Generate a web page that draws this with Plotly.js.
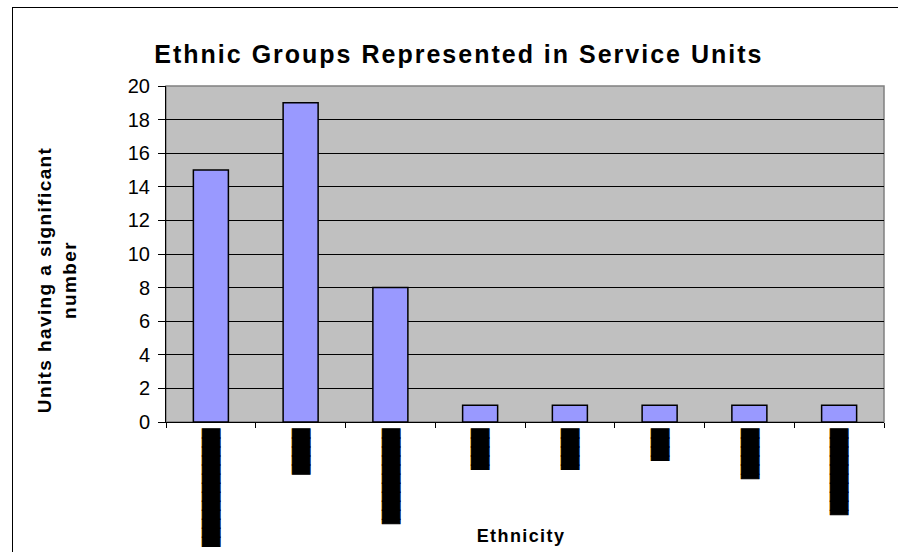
<!DOCTYPE html>
<html>
<head>
<meta charset="utf-8">
<script src="https://cdn.plot.ly/plotly-3.0.1.min.js"></script>
<style>
  html, body { margin: 0; padding: 0; background: #fff; }
  #wrap { position: relative; width: 898px; height: 552px; overflow: hidden; }
  #chart { position: absolute; left: 0; top: 0; width: 898px; height: 552px; }
  /* chart frame: only its left and top edges fall inside the view */
  #frame { position: absolute; left: 12px; top: 7px; width: 1000px; height: 700px;
           border: 1px solid #000; pointer-events: none; box-sizing: border-box; }
  /* the titles are set with a little extra tracking */
  #chart .gtitle { letter-spacing: 2px; }
  #chart .annotation-text { letter-spacing: 1.4px; }
  /* solid category blocks: close the hairline seams between glyphs */
  #chart .xtick text { stroke: #000; stroke-width: 1px; }
</style>
</head>
<body>
<div id="wrap">
  <div id="chart"></div>
  <div id="frame"></div>
</div>
<script>
// Eight ethnic groups; their names print as solid blocks on the category axis
const groupPositions = [0, 1, 2, 3, 4, 5, 6, 7];
const groupLabels = [
  "█████████████",
  "█████",
  "██████████▌",
  "████▌",
  "████▌",
  "███▌",
  "█████▌",
  "█████████▌"
];
const unitsWithSignificantNumber = [15, 19, 8, 1, 1, 1, 1, 1];
const yTicks = [0, 2, 4, 6, 8, 10, 12, 14, 16, 18, 20];

const font = "Liberation Sans, Arial, sans-serif";

const trace = {
  type: "bar",
  x: groupPositions,
  y: unitsWithSignificantNumber,
  width: 0.39,
  marker: { color: "#9999FF", line: { color: "#000", width: 1.5 } },
  hoverinfo: "y"
};

const layout = {
  width: 898,
  height: 552,
  margin: { l: 166, r: 14, t: 86, b: 130 },
  paper_bgcolor: "#fff",
  plot_bgcolor: "#C0C0C0",
  showlegend: false,
  title: {
    text: "<b>Ethnic Groups Represented in Service Units</b>",
    font: { family: font, size: 25, color: "#000" },
    x: 0.511, xanchor: "center",
    y: 0.902, yanchor: "middle"
  },
  xaxis: {
    range: [-0.5, 7.5],
    tickmode: "array",
    tickvals: groupPositions,
    ticktext: groupLabels,
    tickangle: 90,
    ticks: "",
    ticklabelstandoff: 3,
    tickfont: { family: "DejaVu Sans Mono", size: 15, color: "#000" },
    showgrid: false,
    zeroline: false,
    showline: true,
    linecolor: "#000",
    linewidth: 1,
    minor: { tick0: 0.5, dtick: 1, ticks: "outside", ticklen: 5, tickcolor: "#000", tickwidth: 1, showgrid: false },
    automargin: false
  },
  yaxis: {
    range: [0, 20],
    tickmode: "array",
    tickvals: yTicks,
    ticks: "outside",
    ticklen: 7,
    tickcolor: "#000",
    ticklabelstandoff: 4,
    tickfont: { family: font, size: 20, color: "#000" },
    showgrid: true,
    gridcolor: "#000",
    gridwidth: 1,
    zeroline: false,
    showline: true,
    linecolor: "#000",
    linewidth: 1,
    automargin: false
  },
  annotations: [
    {
      text: "<b>Units having a significant<br>number</b>",
      xref: "paper", yref: "paper",
      x: -0.1518, y: 0.4226,
      xanchor: "center", yanchor: "middle",
      textangle: -90,
      showarrow: false,
      font: { family: font, size: 19, color: "#000" }
    },
    {
      text: "<b>Ethnicity</b>",
      xref: "paper", yref: "paper",
      x: 0.4951, y: -0.338,
      xanchor: "center", yanchor: "middle",
      showarrow: false,
      font: { family: font, size: 18, color: "#000" }
    }
  ],
  shapes: [{
    type: "rect", xref: "paper", yref: "paper", x0: 0, x1: 1, y0: 0, y1: 1,
    line: { color: "#808080", width: 1.5 }, fillcolor: "rgba(0,0,0,0)", layer: "below"
  }]
};

Plotly.newPlot("chart", [trace], layout, { displayModeBar: false, staticPlot: true });
</script>
</body>
</html>
